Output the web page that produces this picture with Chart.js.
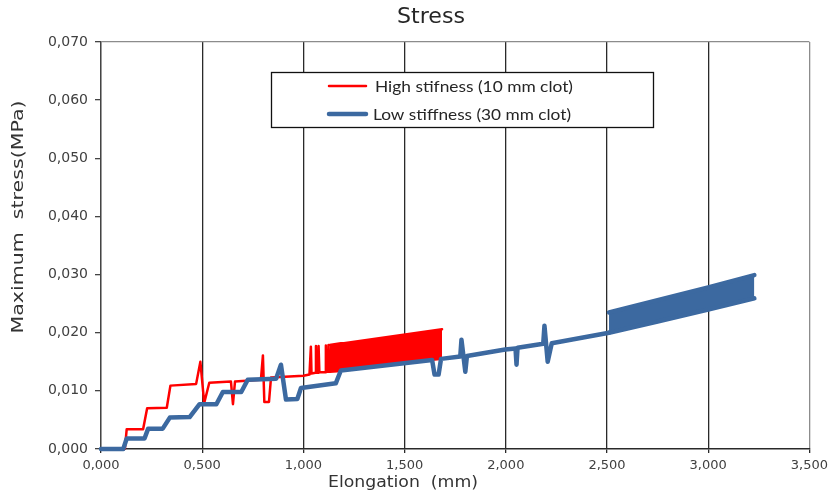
<!DOCTYPE html>
<html>
<head>
<meta charset="utf-8">
<script src="https://cdn.jsdelivr.net/npm/chart.js@4.4.1/dist/chart.umd.min.js"></script>
<style>
  body { margin: 0; background: #fff; }
  #wrap { width: 833px; height: 498px; }
</style>
</head>
<body>
<div id="wrap"><canvas id="chStress" width="833" height="498"></canvas></div>
<script>
// tick values
var xTicks = [0, 0.5, 1.0, 1.5, 2.0, 2.5, 3.0, 3.5];
var yTicks = [0, 0.01, 0.02, 0.03, 0.04, 0.05, 0.06, 0.07];

var seriesLabels = ['High stifness (10 mm clot)', 'Low stiffness (30 mm clot)'];

// high stiffness (red)
var highX = [0, 0.118, 0.127, 0.208, 0.228, 0.325, 0.343, 0.470, 0.491, 0.510, 0.535, 0.642, 0.652, 0.662,
  0.790, 0.800, 0.807, 0.830, 0.840, 1.000, 1.030, 1.037, 1.040, 1.060, 1.062, 1.066, 1.073, 1.075, 1.079,
  1.108, 1.111, 1.115, 1.122, 1.124, 1.130];
var highY = [0, 0, 0.0034, 0.0034, 0.0070, 0.0071, 0.0109, 0.0112, 0.0150, 0.0079, 0.0114, 0.0116, 0.0077, 0.0116,
  0.0119, 0.0161, 0.0081, 0.0081, 0.0123, 0.0126, 0.0128, 0.0176, 0.0130, 0.0131, 0.0177, 0.0131, 0.0131, 0.0177, 0.0132,
  0.0132, 0.0178, 0.0133, 0.0133, 0.0179, 0.0133];
// dense oscillation part of the red curve (lower / upper envelope)
var highBandX = [1.130, 1.185, 1.200, 1.685];
var highBandLow = [0.0133, 0.0134, 0.0138, 0.0155];
var highBandHigh = [0.0179, 0.0182, 0.0182, 0.0206];

// low stiffness (blue)
var lowX = [0, 0.110, 0.127, 0.215, 0.233, 0.305, 0.340, 0.438, 0.487, 0.570, 0.602, 0.693, 0.725, 0.865,
  0.889, 0.914, 0.970, 0.988, 1.160, 1.185, 1.636, 1.648, 1.668, 1.680, 1.775, 1.781, 1.800, 1.808, 1.997,
  2.048, 2.053, 2.058, 2.185, 2.191, 2.207, 2.227, 2.510];
var lowY = [0, 0, 0.0018, 0.0018, 0.0035, 0.0035, 0.0054, 0.0055, 0.0077, 0.0077, 0.0098, 0.0098, 0.0119, 0.0121,
  0.0145, 0.0085, 0.0086, 0.0105, 0.0113, 0.0135, 0.0153, 0.0128, 0.0128, 0.0155, 0.0159, 0.0188, 0.0133, 0.0160, 0.0171,
  0.0173, 0.0145, 0.0174, 0.0181, 0.0212, 0.0150, 0.0182, 0.0200];
// dense oscillation part of the blue curve
var lowBandX = [2.510, 2.750, 3.000, 3.228];
var lowBandLow = [0.0200, 0.0219, 0.0240, 0.0259];
var lowBandHigh = [0.0235, 0.0256, 0.0278, 0.0299];

var colors = ['#ff0000', '#3c69a0'];

function pts(xs, ys) {
  return xs.map(function (x, i) { return { x: x, y: ys[i] }; });
}
function fmt(v) {
  return Number(v).toFixed(3).replace('.', ',');
}

function lineSet(label, data, color, width, order, extra) {
  var ds = {
    label: label,
    data: data,
    borderColor: color,
    backgroundColor: color,
    borderWidth: width,
    pointRadius: 0,
    pointHoverRadius: 0,
    tension: 0,
    fill: false,
    borderJoinStyle: 'round',
    borderCapStyle: 'round',
    clip: 8,
    order: order
  };
  for (var k in extra) ds[k] = extra[k];
  return ds;
}

// draw text stretched to a given width (titles in the original are wider than the font)
function fitText(ctx, text, cx, cy, font, width, rotate, color) {
  ctx.save();
  ctx.translate(cx, cy);
  if (rotate) ctx.rotate(-Math.PI / 2);
  ctx.font = font;
  ctx.fillStyle = color;
  ctx.textAlign = 'center';
  ctx.textBaseline = 'middle';
  var w = ctx.measureText(text).width;
  ctx.scale(width / w, 1);
  ctx.fillText(text, 0, 0);
  ctx.restore();
}

var overlay = {
  id: 'overlay',
  afterDraw: function (chart) {
    var ctx = chart.ctx;
    fitText(ctx, 'Stress', 431, 18, '21px "DejaVu Sans"', 68, false, '#262626');
    fitText(ctx, 'Elongation  (mm)', 403, 483, '16px "DejaVu Sans"', 150, false, '#333');
    fitText(ctx, 'Maximum  stress(MPa)', 19, 217, '15px "DejaVu Sans"', 233, true, '#333');

    // legend box inside the plot
    ctx.save();
    ctx.fillStyle = '#fff';
    ctx.fillRect(271.5, 72.5, 382, 55);
    ctx.strokeStyle = '#111';
    ctx.lineWidth = 1.3;
    ctx.strokeRect(271.5, 72.5, 382, 55);
    var ds = chart.data.datasets;
    var rows = [86, 114];
    for (var i = 0; i < 2; i++) {
      ctx.beginPath();
      ctx.strokeStyle = ds[i].borderColor;
      ctx.lineWidth = ds[i].borderWidth;
      ctx.lineCap = 'round';
      ctx.moveTo(329, rows[i]);
      ctx.lineTo(366, rows[i]);
      ctx.stroke();
      ctx.font = '16px Lato';
      ctx.fillStyle = '#262626';
      ctx.textBaseline = 'middle';
      ctx.textAlign = 'left';
      var w = ctx.measureText(ds[i].label).width;
      ctx.save();
      ctx.translate(i === 0 ? 375 : 373, rows[i] + 1);
      ctx.scale(198 / w, 1);
      ctx.fillText(ds[i].label, 0, 0);
      ctx.restore();
    }
    ctx.restore();
  }
};

window.onload = function onload() {
  new Chart(document.getElementById('chStress'), {
    type: 'line',
    data: {
      datasets: [
        lineSet(seriesLabels[0], pts(highX, highY), colors[0], 2.5, 1, {}),
        lineSet(seriesLabels[1], pts(lowX, lowY), colors[1], 4.5, 0, {}),
        lineSet('high band low', pts(highBandX, highBandLow), colors[0], 2.5, 1, {}),
        lineSet('high band high', pts(highBandX, highBandHigh), colors[0], 2.5, 1, { fill: 2 }),
        lineSet('low band low', pts(lowBandX, lowBandLow), colors[1], 4.5, 0, {}),
        lineSet('low band high', pts(lowBandX, lowBandHigh), colors[1], 4.5, 0, { fill: 4 })
      ]
    },
    options: {
      responsive: false,
      animation: false,
      events: [],
      layout: { padding: { top: 42, right: 22, left: 0, bottom: 0 } },
      plugins: {
        legend: { display: false },
        title: { display: false },
        tooltip: { enabled: false }
      },
      scales: {
        x: {
          type: 'linear',
          min: 0,
          max: 3.5,
          afterBuildTicks: function (s) { s.ticks = xTicks.map(function (v) { return { value: v }; }); },
          afterFit: function (s) { s.height = 49; },
          ticks: {
            callback: fmt,
            maxRotation: 0,
            autoSkip: false,
            padding: 5,
            color: '#404040',
            font: { family: 'DejaVu Sans', size: 13 }
          },
          grid: {
            color: function (c) { return c.tick && c.tick.value >= 3.5 ? '#8c8c8c' : '#2a2a2a'; },
            lineWidth: 1.3,
            tickLength: 4,
            tickColor: '#2a2a2a'
          },
          border: { color: '#2a2a2a', width: 1.5 }
        },
        y: {
          type: 'linear',
          min: 0,
          max: 0.07,
          afterBuildTicks: function (s) { s.ticks = yTicks.map(function (v) { return { value: v }; }); },
          afterFit: function (s) { s.width = 101; },
          ticks: {
            callback: fmt,
            autoSkip: false,
            padding: 7,
            color: '#404040',
            font: { family: 'DejaVu Sans', size: 14 }
          },
          grid: {
            color: function (c) { return c.tick && c.tick.value >= 0.0699 ? '#8c8c8c' : 'rgba(0,0,0,0)'; },
            lineWidth: 1.3,
            tickLength: 6,
            tickColor: '#444'
          },
          border: { color: '#444', width: 1.3 }
        }
      }
    },
    plugins: [overlay]
  });
};
</script>
</body>
</html>
